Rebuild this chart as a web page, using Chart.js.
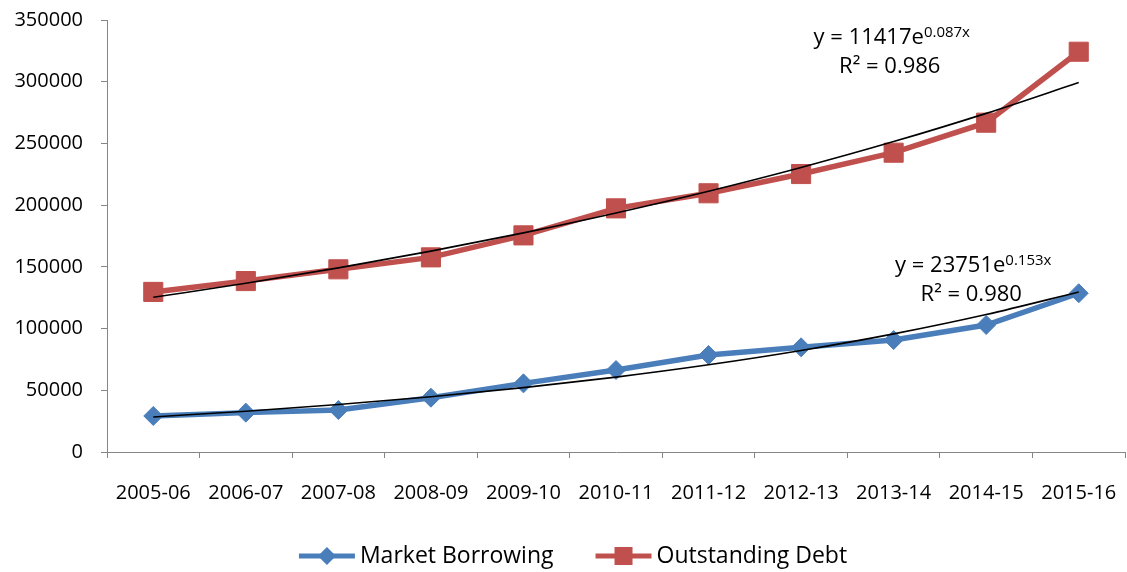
<!DOCTYPE html>
<html>
<head>
<meta charset="utf-8">
<script src="https://cdn.jsdelivr.net/npm/chart.js@4/dist/chart.umd.min.js"></script>
<style>
  html, body { margin: 0; padding: 0; background: #ffffff; }
  #wrap { width: 1127px; height: 572px; position: relative; }
</style>
</head>
<body>
<div id="wrap"><canvas id="chart" width="1127" height="572"></canvas></div>
<script>
// Fiscal years on the category axis
const years = ['2005-06', '2006-07', '2007-08', '2008-09', '2009-10', '2010-11',
               '2011-12', '2012-13', '2013-14', '2014-15', '2015-16'];

// Series values
const marketBorrowing = [29200, 31900, 34000, 44000, 55600, 66400, 78600, 84800, 90700, 102900, 128600];
const outstandingDebt = [129700, 138500, 148000, 157700, 175500, 197400, 209600, 225200, 242500, 266800, 324300];

// Value-axis ticks
const yTicks = [0, 50000, 100000, 150000, 200000, 250000, 300000, 350000];

// Trendline equation labels (exponential fits)
const debtFitLabel = { eq: 'y = 11417e', exp: '0.087x', r2: 'R\u00B2 = 0.986' };
const borrowFitLabel = { eq: 'y = 23751e', exp: '0.153x', r2: 'R\u00B2 = 0.980' };

const FONT = "'Open Sans', 'Noto Sans', sans-serif";
const BLUE = '#4a7ebb';
const RED = '#c0504d';
const AXIS = '#868686';

// Least-squares exponential fit y = a*e^(b*x), x = 1..n, evaluated at each category
function expFit(values) {
  const n = values.length;
  let sx = 0, sy = 0, sxx = 0, sxy = 0;
  values.forEach((v, i) => {
    const x = i + 1, ly = Math.log(v);
    sx += x; sy += ly; sxx += x * x; sxy += x * ly;
  });
  const b = (n * sxy - sx * sy) / (n * sxx - sx * sx);
  const lnA = (sy - b * sx) / n;
  return values.map((_, i) => Math.exp(lnA + b * (i + 1)));
}

// Equation text next to each trendline
const equationPlugin = {
  id: 'equations',
  afterDatasetsDraw(chart) {
    const { ctx, scales: { x, y } } = chart;
    const items = [
      { label: debtFitLabel, xv: 7.98, yv: 330500 },
      { label: borrowFitLabel, xv: 8.86, yv: 146000 }
    ];
    ctx.save();
    ctx.fillStyle = '#000';
    ctx.textBaseline = 'alphabetic';
    items.forEach(({ label, xv, yv }) => {
      const cx = x.getPixelForValue(xv);
      const by = y.getPixelForValue(yv);
      ctx.font = `22px ${FONT}`;
      const w1 = ctx.measureText(label.eq).width;
      ctx.font = `15px ${FONT}`;
      const w2 = ctx.measureText(label.exp).width;
      const left = cx - (w1 + w2) / 2;
      ctx.textAlign = 'left';
      ctx.font = `22px ${FONT}`;
      ctx.fillText(label.eq, left, by);
      ctx.font = `15px ${FONT}`;
      ctx.fillText(label.exp, left + w1, by - 7);
      ctx.font = `22px ${FONT}`;
      ctx.textAlign = 'center';
      ctx.fillText(label.r2, cx - 2, by + 29);
    });
    ctx.restore();
  }
};

// Legend with a line segment and marker for each series
const lineLegendPlugin = {
  id: 'lineLegend',
  afterDraw(chart) {
    const ctx = chart.ctx;
    const entries = chart.data.datasets.filter(d => !d.isTrend);
    const lineLen = 56, gap = 5, itemGap = 42, cy = 556;
    ctx.save();
    ctx.font = `23px ${FONT}`;
    const widths = entries.map(d => ctx.measureText(d.label).width);
    const total = widths.reduce((s, w) => s + lineLen + gap + w, 0) + itemGap * (entries.length - 1);
    let xPos = 573 - total / 2;
    entries.forEach((d, i) => {
      ctx.strokeStyle = d.borderColor;
      ctx.lineWidth = 5;
      ctx.beginPath();
      ctx.moveTo(xPos, cy);
      ctx.lineTo(xPos + lineLen, cy);
      ctx.stroke();
      const mx = xPos + lineLen / 2;
      ctx.fillStyle = d.borderColor;
      ctx.beginPath();
      if (d.pointStyle === 'rectRot') {
        const r = 9;
        ctx.moveTo(mx - r, cy); ctx.lineTo(mx, cy - r); ctx.lineTo(mx + r, cy); ctx.lineTo(mx, cy + r);
        ctx.closePath();
      } else {
        const h = 9;
        ctx.rect(mx - h, cy - h, 2 * h, 2 * h);
      }
      ctx.fill();
      ctx.fillStyle = '#000';
      ctx.textAlign = 'left';
      ctx.textBaseline = 'middle';
      ctx.fillText(d.label, xPos + lineLen + gap, cy);
      xPos += lineLen + gap + widths[i] + itemGap;
    });
    ctx.restore();
  }
};

new Chart(document.getElementById('chart'), {
  type: 'line',
  data: {
    labels: years,
    datasets: [
      {
        label: 'Outstanding Debt trend',
        isTrend: true,
        data: expFit(outstandingDebt),
        borderColor: '#000',
        borderWidth: 1.6,
        pointRadius: 0,
        cubicInterpolationMode: 'monotone',
        order: 0
      },
      {
        label: 'Market Borrowing trend',
        isTrend: true,
        data: expFit(marketBorrowing),
        borderColor: '#000',
        borderWidth: 1.6,
        pointRadius: 0,
        cubicInterpolationMode: 'monotone',
        order: 0
      },
      {
        label: 'Market Borrowing',
        data: marketBorrowing,
        borderColor: BLUE,
        backgroundColor: BLUE,
        borderWidth: 5.5,
        pointStyle: 'rectRot',
        pointRadius: 9.5,
        pointBorderWidth: 1,
        pointBackgroundColor: BLUE,
        pointBorderColor: BLUE,
        tension: 0,
        order: 1
      },
      {
        label: 'Outstanding Debt',
        data: outstandingDebt,
        borderColor: RED,
        backgroundColor: RED,
        borderWidth: 5.5,
        pointStyle: 'rect',
        pointRadius: 13.5,
        pointBorderWidth: 1,
        pointBackgroundColor: RED,
        pointBorderColor: RED,
        tension: 0,
        order: 1
      }
    ]
  },
  options: {
    responsive: false,
    animation: false,
    devicePixelRatio: 1,
    layout: { autoPadding: false, padding: { top: 20, right: 2, left: 0, bottom: 0 } },
    plugins: {
      legend: { display: false },
      tooltip: { enabled: false },
      title: { display: false }
    },
    scales: {
      x: {
        type: 'category',
        offset: true,
        grid: { offset: true, drawOnChartArea: false, drawTicks: true, tickLength: 6, color: AXIS },
        border: { color: AXIS, width: 1 },
        ticks: {
          color: '#000',
          font: { family: FONT, size: 20 },
          maxRotation: 0,
          autoSkip: false,
          padding: 23
        },
        afterFit(scale) {
          scale.height = 120;
          scale.paddingLeft = 0;
          scale.paddingRight = 0;
        }
      },
      y: {
        min: 0,
        max: 350000,
        afterBuildTicks(scale) { scale.ticks = yTicks.map(v => ({ value: v })); },
        grid: { drawOnChartArea: false, drawTicks: true, tickLength: 6, color: AXIS },
        border: { color: AXIS, width: 1 },
        ticks: {
          color: '#000',
          font: { family: FONT, size: 20 },
          padding: 18,
          callback: v => String(v)
        },
        afterFit(scale) {
          scale.width = 107;
          scale.paddingTop = 0;
          scale.paddingBottom = 0;
        }
      }
    }
  },
  plugins: [equationPlugin, lineLegendPlugin]
});
</script>
</body>
</html>
